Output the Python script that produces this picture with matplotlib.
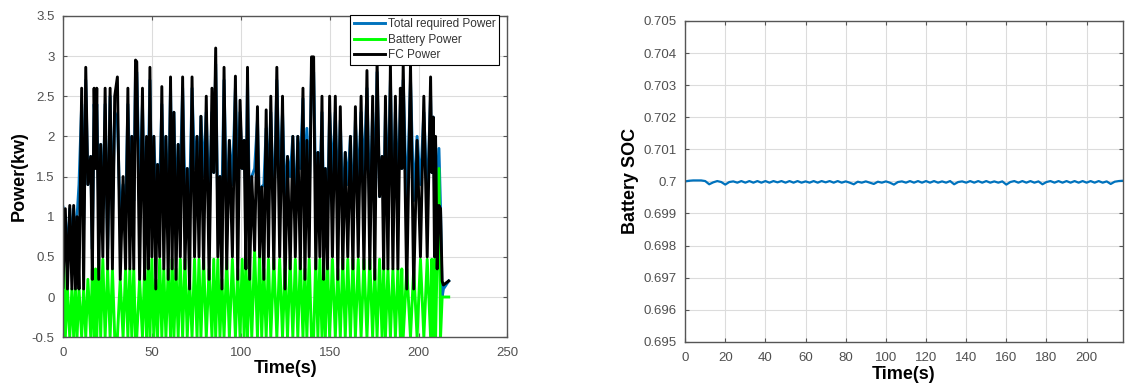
"""
Power split (total / battery / FC) and battery SOC over the drive cycle.
"""
import matplotlib
matplotlib.use("Agg")
import matplotlib.pyplot as plt

# time base for the power traces (s)
t_pow = [0, 1.3, 2.5, 3.8, 5.0, 6.0, 7.0, 7.9, 9.0, 10.5,
         11.6, 12.8, 14.0, 15.6, 16.5, 17.5, 18.3, 19.0, 20.1, 21.2,
         22.4, 23.7, 25.1, 26.5, 27.8, 29.1, 30.6, 32.2, 33.8, 35.2,
         36.5, 37.6, 38.7, 39.8, 40.8, 41.5, 43.1, 44.7, 45.9, 47.0,
         48.0, 48.9, 50.0, 51.1, 52.2, 53.2, 54.4, 55.6, 56.7, 57.9,
         59.2, 60.5, 61.4, 62.4, 63.6, 64.8, 66.0, 67.3, 68.6, 69.9,
         71.2, 72.6, 74.0, 75.4, 76.5, 77.6, 79.1, 80.6, 82.2, 83.8,
         84.8, 85.9, 87.1, 88.3, 89.4, 90.6, 92.1, 93.6, 95.3, 97.0,
         98.3, 99.6, 100.8, 101.9, 102.9, 103.8, 105.0, 106.2, 107.8, 109.4,
         110.6, 111.8, 113.0, 114.3, 115.6, 116.9, 118.6, 120.3, 121.9, 123.5,
         124.9, 126.3, 127.8, 129.3, 130.7, 132.1, 133.5, 135.0, 136.1, 137.2,
         138.5, 139.8, 141.0, 142.2, 143.4, 144.5, 145.7, 146.6, 147.6, 148.8,
         150.0, 151.6, 153.2, 154.6, 156.0, 157.4, 158.8, 160.2, 161.7, 163.1,
         164.5, 166.1, 167.7, 169.3, 171.0, 172.6, 174.2, 175.4, 176.7, 178.1,
         179.5, 180.4, 181.4, 182.8, 184.2, 185.6, 187.0, 188.4, 189.8, 190.6,
         191.4, 193.4, 195.5, 197.3, 199.2, 201.1, 203.0, 204.9, 206.8, 207.5,
         208.3, 209.0, 209.6, 210.5, 211.5, 212.4, 213.3, 214.0, 217.0]

# total required power (kW)
p_total = [1.12, 1.00, 0.50, 1.10, 0.60, 1.10, 0.60, 1.00, 1.40, 2.40,
           0.90, 2.70, 1.40, 1.75, 0.60, 2.40, 2.10, 2.40, 1.10, 1.90,
           1.10, 2.40, 0.60, 2.50, 1.00, 2.30, 2.20, 1.00, 1.40, 1.00,
           2.40, 1.50, 2.00, 1.20, 2.80, 2.80, 1.30, 2.40, 1.20, 1.80,
           1.60, 2.70, 1.20, 2.00, 1.30, 1.65, 1.40, 2.40, 1.50, 2.00,
           1.00, 2.60, 1.20, 2.30, 1.00, 1.90, 1.50, 2.60, 1.30, 1.60,
           1.20, 2.60, 1.60, 2.00, 1.40, 2.25, 1.50, 2.30, 1.10, 2.30,
           1.55, 2.90, 1.00, 1.50, 1.20, 2.70, 1.00, 1.95, 1.40, 2.60,
           1.50, 2.30, 1.60, 1.95, 1.20, 2.70, 1.00, 1.50, 1.60, 2.20,
           1.10, 1.37, 1.40, 2.10, 1.40, 2.30, 1.00, 2.70, 1.40, 2.30,
           1.20, 1.75, 1.50, 2.00, 1.00, 2.00, 1.60, 2.47, 1.30, 2.10,
           1.20, 2.80, 2.80, 1.30, 1.80, 1.40, 2.30, 1.20, 1.60, 1.00,
           2.30, 1.50, 2.30, 1.20, 2.20, 1.10, 1.80, 1.40, 2.00, 1.00,
           2.20, 1.40, 2.30, 1.50, 2.60, 1.10, 2.30, 1.30, 2.80, 1.25,
           1.75, 1.20, 2.30, 1.30, 2.70, 1.10, 2.30, 1.30, 2.40, 1.60,
           2.70, 1.10, 2.70, 1.20, 2.00, 1.40, 2.30, 1.20, 2.50, 1.55,
           2.24, 1.30, 1.90, 1.00, 1.85, 1.10, 0.00, 0.10, 0.20]

# battery power (kW)
p_batt = [1.00, -0.50, 0.10, -0.50, 0.10, -0.50, 0.10, -0.50, 0.10, -0.50,
          0.10, -0.50, 0.22, -0.50, 0.35, -0.50, 0.35, -0.50, 0.47, -0.50,
          0.47, -0.50, 0.35, -0.50, 0.35, -0.50, -0.50, 0.22, -0.50, 0.35,
          -0.50, 0.35, -0.50, 0.35, -0.50, -0.50, 0.22, -0.50, 0.35, -0.50,
          0.47, -0.50, 0.47, -0.50, 0.22, -0.50, 0.47, -0.50, 0.35, -0.50,
          0.35, -0.50, 0.47, -0.50, 0.35, -0.50, 0.47, -0.50, 0.47, -0.50,
          0.22, -0.50, 0.47, -0.50, 0.47, -0.50, 0.47, -0.50, 0.35, -0.50,
          0.47, -0.50, 0.47, -0.50, 0.22, -0.50, 0.47, -0.50, 0.47, -0.50,
          0.35, -0.50, 0.47, -0.50, 0.47, -0.50, 0.35, -0.50, 0.58, -0.50,
          0.58, -0.50, 0.35, -0.50, 0.47, -0.50, 0.47, -0.50, 0.47, -0.50,
          0.35, -0.50, 0.47, -0.50, 0.47, -0.50, 0.47, -0.50, 0.35, -0.50,
          0.47, -0.50, -0.50, 0.47, -0.50, 0.47, -0.50, 0.35, -0.50, 0.47,
          -0.50, 0.47, -0.50, 0.35, -0.50, 0.47, -0.50, 0.47, -0.50, 0.47,
          -0.50, 0.47, -0.50, 0.47, -0.50, 0.47, -0.50, 0.35, -0.50, 0.47,
          -0.50, 0.35, -0.50, 0.35, -0.50, 0.35, -0.50, 0.35, -0.50, 0.35,
          -0.50, 0.35, -0.50, 0.35, -0.50, 0.47, -0.50, 0.47, -0.50, 0.47,
          -0.50, 0.47, -0.50, 0.47, 1.60, -0.50, 0.00, 0.00, 0.00]

# fuel cell power (kW)
p_fc = [0.12, 1.10, 0.10, 1.14, 0.10, 1.14, 0.10, 1.00, 0.10, 2.60,
        0.10, 2.86, 1.40, 1.75, 0.22, 2.60, 1.60, 2.60, 0.22, 1.90,
        0.50, 2.60, 0.35, 2.60, 0.35, 2.50, 2.74, 0.22, 1.50, 0.35,
        2.60, 0.35, 2.00, 0.35, 2.95, 2.93, 0.22, 2.60, 0.22, 2.00,
        0.35, 2.86, 0.50, 2.00, 0.10, 1.65, 0.50, 2.62, 0.35, 2.00,
        0.22, 2.74, 0.35, 2.30, 0.22, 1.90, 0.50, 2.74, 0.35, 1.60,
        0.10, 2.74, 0.50, 2.00, 0.50, 2.25, 0.35, 2.50, 0.22, 2.60,
        1.55, 3.10, 0.50, 1.50, 0.10, 2.86, 0.35, 1.95, 0.50, 2.75,
        0.22, 2.45, 1.60, 1.95, 0.35, 2.86, 0.22, 1.50, 0.58, 2.37,
        0.50, 1.37, 0.22, 2.33, 0.50, 2.50, 0.35, 2.86, 0.50, 2.50,
        0.10, 1.75, 0.35, 2.00, 0.50, 2.00, 0.35, 2.60, 0.22, 1.95,
        0.50, 2.99, 2.99, 0.35, 1.80, 0.50, 2.50, 0.22, 1.60, 0.35,
        2.50, 0.50, 2.50, 0.22, 2.37, 0.35, 1.80, 0.50, 2.00, 0.35,
        2.37, 0.50, 2.50, 0.35, 2.82, 0.35, 2.50, 0.22, 2.95, 1.25,
        1.75, 0.35, 2.50, 0.35, 2.90, 0.35, 2.50, 0.35, 2.60, 1.60,
        2.90, 0.10, 2.90, 0.10, 1.95, 0.50, 2.50, 0.50, 2.74, 1.55,
        2.24, 0.50, 2.00, 0.35, 1.14, 1.10, 0.20, 0.15, 0.20]

# battery state of charge
t_soc = [0, 2, 4, 6, 8, 10, 12, 14, 16, 18,
         20, 22, 24, 26, 28, 30, 32, 34, 36, 38,
         40, 42, 44, 46, 48, 50, 52, 54, 56, 58,
         60, 62, 64, 66, 68, 70, 72, 74, 76, 78,
         80, 82, 84, 86, 88, 90, 92, 94, 96, 98,
         100, 102, 104, 106, 108, 110, 112, 114, 116, 118,
         120, 122, 124, 126, 128, 130, 132, 134, 136, 138,
         140, 142, 144, 146, 148, 150, 152, 154, 156, 158,
         160, 162, 164, 166, 168, 170, 172, 174, 176, 178,
         180, 182, 184, 186, 188, 190, 192, 194, 196, 198,
         200, 202, 204, 206, 208, 210, 212, 214, 216, 218]
soc = [0.70000, 0.70002, 0.70003, 0.70003, 0.70003, 0.70001, 0.69991, 0.69997, 0.70001, 0.69998,
       0.69990, 0.69998, 0.70000, 0.69996, 0.70001, 0.69996, 0.70001, 0.69996, 0.70001, 0.69996,
       0.70001, 0.69996, 0.70001, 0.69997, 0.70001, 0.69996, 0.70001, 0.69996, 0.70001, 0.69996,
       0.70000, 0.69996, 0.70001, 0.69996, 0.70001, 0.69997, 0.70001, 0.69996, 0.70001, 0.69996,
       0.70000, 0.69996, 0.69991, 0.69999, 0.69996, 0.70000, 0.69996, 0.69992, 0.69999, 0.69996,
       0.70000, 0.69996, 0.69990, 0.69998, 0.70000, 0.69996, 0.70001, 0.69996, 0.70001, 0.69996,
       0.70001, 0.69996, 0.70001, 0.69996, 0.70000, 0.69996, 0.70001, 0.69991, 0.69998, 0.70000,
       0.69996, 0.70001, 0.69996, 0.70001, 0.69996, 0.70001, 0.69996, 0.70000, 0.69996, 0.70000,
       0.69990, 0.69998, 0.70001, 0.69996, 0.70001, 0.69996, 0.70001, 0.69996, 0.70000, 0.69991,
       0.69998, 0.70001, 0.69996, 0.70001, 0.69996, 0.70001, 0.69996, 0.70001, 0.69996, 0.70001,
       0.69996, 0.70001, 0.69996, 0.70001, 0.69996, 0.70000, 0.69992, 0.69999, 0.70001, 0.70002]

pow_yticks = [-0.5, 0, 0.5, 1, 1.5, 2, 2.5, 3, 3.5]
pow_ylabels = ["-0.5", "0", "0.5", "1", "1.5", "2", "2.5", "3", "3.5"]
pow_xticks = [0, 50, 100, 150, 200, 250]
soc_yticks = [0.695, 0.696, 0.697, 0.698, 0.699, 0.700, 0.701, 0.702, 0.703, 0.704, 0.705]
soc_ylabels = ["0.695", "0.696", "0.697", "0.698", "0.699", "0.7",
               "0.701", "0.702", "0.703", "0.704", "0.705"]
soc_xticks = [0, 20, 40, 60, 80, 100, 120, 140, 160, 180, 200]

plt.rcParams["font.family"] = ["Liberation Sans", "DejaVu Sans"]

MBLUE = "#0072BD"
TICKGRAY = "#505050"


def matlab_style(ax):
    ax.tick_params(direction="in", top=True, right=True, length=3,
                   width=0.8, colors="#555555", labelcolor=TICKGRAY,
                   labelsize=9.5)
    ax.tick_params(axis="x", pad=7)
    ax.tick_params(axis="y", pad=6)
    ax.grid(True, color="#dcdcdc", linewidth=0.8)
    ax.set_axisbelow(True)
    for s in ax.spines.values():
        s.set_color("#555555")
        s.set_linewidth(1.0)


fig = plt.figure(figsize=(11.25, 3.88), dpi=100)

ax1 = fig.add_axes([0.056, 0.131, 0.395, 0.828])
ax1.plot(t_pow, p_total, color=MBLUE, linewidth=2.1, label="Total required Power")
ax1.plot(t_pow, p_batt, color="#00ff00", linewidth=2.1, label="Battery Power")
ax1.plot(t_pow, p_fc, color="black", linewidth=2.1, label="FC Power")
ax1.set_xlim(0, 250)
ax1.set_ylim(-0.5, 3.5)
ax1.set_xticks(pow_xticks)
ax1.set_yticks(pow_yticks)
ax1.set_yticklabels(pow_ylabels)
matlab_style(ax1)
ax1.set_xlabel("Time(s)", fontsize=13, fontweight="bold", labelpad=1)
ax1.set_ylabel("Power(kw)", fontsize=13, fontweight="bold", labelpad=3)
leg = ax1.legend(loc="upper right", bbox_to_anchor=(0.982, 1.004),
                 borderaxespad=0, fontsize=8.5, fancybox=False,
                 edgecolor="black", framealpha=1, handlelength=2.6,
                 handletextpad=0.3, borderpad=0.3, labelspacing=0.3)
leg.get_frame().set_linewidth(0.8)
for txt in leg.get_texts():
    txt.set_color("#333333")

ax2 = fig.add_axes([0.609, 0.119, 0.389, 0.827])
ax2.plot(t_soc, soc, color=MBLUE, linewidth=1.6)
ax2.set_xlim(0, 218)
ax2.set_ylim(0.695, 0.705)
ax2.set_xticks(soc_xticks)
ax2.set_yticks(soc_yticks)
ax2.set_yticklabels(soc_ylabels)
matlab_style(ax2)
ax2.set_xlabel("Time(s)", fontsize=13, fontweight="bold", labelpad=2)
ax2.set_ylabel("Battery SOC", fontsize=13, fontweight="bold", labelpad=3)

fig.savefig("out.png", dpi=100)
